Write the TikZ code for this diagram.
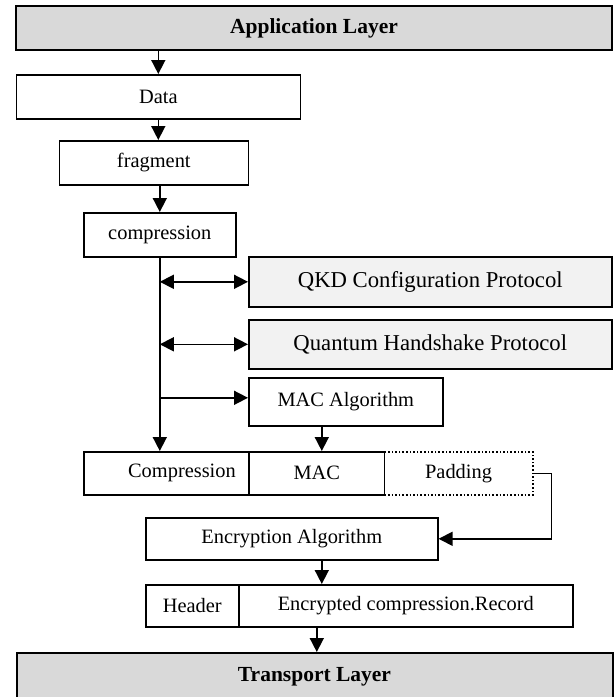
\documentclass[tikz,border=0pt]{standalone}
\usepackage{fontspec}
\setmainfont{Liberation Serif}
\usetikzlibrary{arrows.meta}
\begin{document}
\begin{tikzpicture}[x=1pt,y=-1pt,line width=1.6pt,
  box/.style={draw,anchor=north west,inner sep=0pt,font=\fontsize{20.4}{24}\selectfont},
  layer/.style={box,fill=gray!30,line width=2pt,font=\fontsize{21.5}{25}\selectfont\bfseries},
  proto/.style={box,fill=gray!10,font=\fontsize{22.7}{27}\selectfont},
  arr/.style={-{Triangle[length=14pt,width=14pt]}},
  arrb/.style={{Triangle[length=14pt,width=14pt]}-{Triangle[length=14pt,width=14pt]}}]
  \useasboundingbox (0,0) rectangle (614,697);
  % vrstvy
  \node[layer,minimum width=596pt,minimum height=44pt] (app) at (15,5) {Application Layer};
  \node[layer,minimum width=596pt,minimum height=48pt] (tl) at (15.5,652) {Transport Layer};
  % zpracovani dat
  \node[box,minimum width=284pt,minimum height=44pt] (data) at (15.5,74) {Data};
  \node[box,minimum width=189pt,minimum height=44pt] (frag) at (58.5,140) {fragment};
  \node[box,minimum width=152pt,minimum height=44pt] (comp) at (83,212) {compression};
  \node[proto,minimum width=363pt,minimum height=50pt] (qkd) at (248,256) {QKD Configuration Protocol};
  \node[proto,minimum width=363pt,minimum height=49pt] (hs) at (248,319) {Quantum Handshake Protocol};
  \node[box,minimum width=194pt,minimum height=48pt] (macalg) at (248,377) {MAC Algorithm};
  % zaznam
  \node[box,dotted,minimum width=148.5pt,minimum height=43pt] (pad) at (383.5,451) {Padding};
  \node[box,minimum height=43pt,text width=139pt,align=right,inner xsep=13pt] (cmp) at (83,451) {Compression};
  \node[box,minimum width=135pt,minimum height=43pt] (mac) at (248.5,451) {MAC};
  \node[box,minimum width=292pt,minimum height=42pt] (enc) at (145,517) {Encryption Algorithm};
  \node[box,minimum width=93pt,minimum height=42pt] (hdr) at (145,584) {Header};
  \node[box,minimum width=334pt,minimum height=42pt] (rec) at (238,584) {Encrypted compression.Record};
  % sipky
  \draw[arr] (data.north |- app.south) -- (data.north);
  \draw[arr] (data.south) -- (data.south |- frag.north);
  \draw[arr] (comp.north |- frag.south) -- (comp.north);
  \draw[arr] (comp.south) -- (comp.south |- cmp.north);
  \draw[arrb] (qkd.west -| comp.south) -- (qkd.west);
  \draw[arrb] (hs.west -| comp.south) -- (hs.west);
  \draw[arr] ([yshift=4pt]macalg.west -| comp.south) -- ([yshift=4pt]macalg.west);
  \draw[arr] ([xshift=-24pt]macalg.south) -- ([xshift=-24pt]macalg.south |- mac.north);
  \draw[arr] (pad.east) -- ++(18,0) |- (enc.east);
  \draw[arr] ([xshift=30pt]enc.south) -- ([xshift=30pt]enc.south |- rec.north);
  \draw[arr] ([xshift=-89pt]rec.south) -- ([xshift=-89pt]rec.south |- tl.north);
\end{tikzpicture}
\end{document}
